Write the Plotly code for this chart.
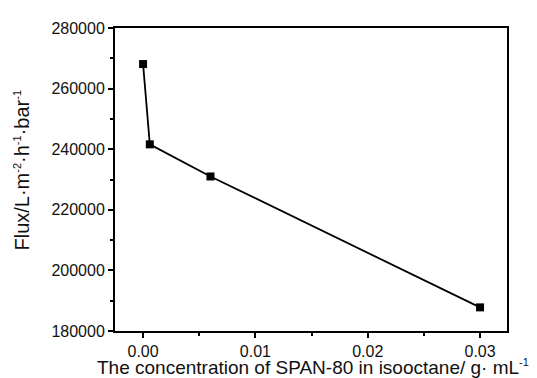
import plotly.graph_objects as go

concentration = [0.0, 0.0006, 0.006, 0.03]
flux = [268100, 241600, 231000, 187800]
x_ticks = [0.00, 0.01, 0.02, 0.03]
x_tick_labels = ["0.00", "0.01", "0.02", "0.03"]
y_ticks = [180000, 200000, 220000, 240000, 260000, 280000]
y_tick_labels = ["180000", "200000", "220000", "240000", "260000", "280000"]
x_title = "The concentration of SPAN-80 in isooctane/ g· mL<sup><span style='font-size:11px'>-1</span></sup>"
y_title = ("Flux/L·m<sup><span style='font-size:11px'>-2</span></sup>·h<sup><span style='font-size:11px'>-1</span></sup>"
           "·bar<sup><span style='font-size:11px'>-1</span></sup>")

fig = go.Figure()
fig.add_trace(go.Scatter(
    x=concentration, y=flux, mode="lines+markers",
    line=dict(color="black", width=1.8),
    marker=dict(symbol="square", size=8, color="black"),
    showlegend=False,
))

font = dict(family="Liberation Sans, Arial, sans-serif", color="#111111", size=16)
fig.update_layout(
    width=529, height=370,
    margin=dict(l=107, r=30, t=13, b=47),
    paper_bgcolor="white", plot_bgcolor="white",
    font=font,
    xaxis=dict(
        range=[-0.0025, 0.0324],
        tickmode="array", tickvals=x_ticks, ticktext=x_tick_labels,
        ticks="outside", ticklen=5, tickwidth=1.5, tickcolor="black",
        minor=dict(dtick=0.005, tick0=0, ticks="outside", ticklen=3, tickwidth=1.5, tickcolor="black"),
        showline=True, linecolor="black", linewidth=2, mirror=True,
        showgrid=False, zeroline=False,
        tickfont=dict(size=16),
    ),
    yaxis=dict(
        range=[180000, 280000],
        tickmode="array", tickvals=y_ticks, ticktext=y_tick_labels,
        ticks="outside", ticklen=5, tickwidth=1.5, tickcolor="black",
        minor=dict(dtick=10000, tick0=180000, ticks="outside", ticklen=3, tickwidth=1.5, tickcolor="black"),
        showline=True, linecolor="black", linewidth=2, mirror=True,
        showgrid=False, zeroline=False,
        tickfont=dict(size=16),
    ),
    annotations=[
        dict(text=x_title, xref="paper", yref="paper", x=0.505, y=-0.12,
             xanchor="center", yanchor="middle", showarrow=False, font=dict(size=19)),
        dict(text=y_title, xref="paper", yref="paper", x=-0.237, y=0.53, textangle=-90,
             xanchor="center", yanchor="middle", showarrow=False, font=dict(size=20)),
    ],
)

fig.write_html("out.html")
